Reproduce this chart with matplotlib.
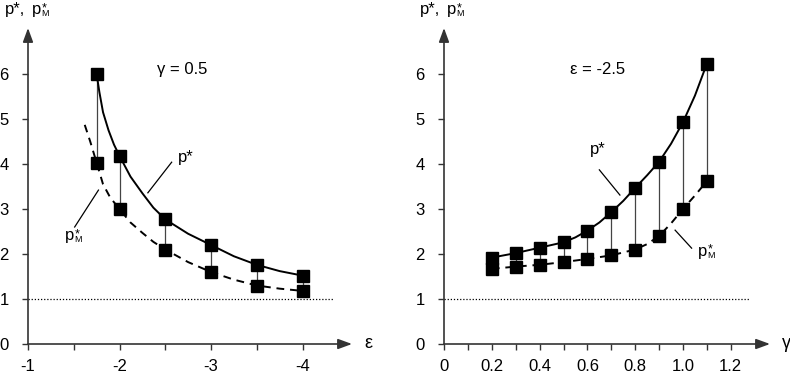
import matplotlib
matplotlib.use('Agg')
import matplotlib.pyplot as plt

plt.rcParams['font.family'] = ['Liberation Sans', 'DejaVu Sans']

# Left panel: gamma = 0.5, prices against elasticity
eps_pts = [-1.75, -2.0, -2.5, -3.0, -3.5, -4.0]
p_eps = [6.0, 4.18, 2.77, 2.2, 1.76, 1.52]
pm_eps = [4.03, 3.0, 2.1, 1.6, 1.3, 1.18]
# curves
eps_curve_p = [-1.75, -1.78, -1.82, -1.88, -1.94, -2.0, -2.12, -2.25, -2.37, -2.5, -2.75, -3.0,
               -3.25, -3.5, -3.75, -4.0]
p_curve_eps = [6.0, 5.6, 5.15, 4.75, 4.43, 4.18, 3.72, 3.35, 3.03, 2.77, 2.45, 2.2,
               1.95, 1.76, 1.62, 1.52]
eps_curve_pm = [-1.62, -1.68, -1.72, -1.75, -1.82, -1.9, -2.0, -2.12, -2.25, -2.37, -2.5, -2.75,
                -3.0, -3.25, -3.5, -3.75, -4.0]
pm_curve_eps = [4.87, 4.5, 4.23, 4.03, 3.55, 3.25, 3.0, 2.7, 2.47, 2.27, 2.1, 1.82,
                1.6, 1.43, 1.3, 1.23, 1.18]

# Right panel: eps = -2.5, prices against gamma
gam_pts = [0.2, 0.3, 0.4, 0.5, 0.6, 0.7, 0.8, 0.9, 1.0, 1.1]
p_gam = [1.92, 2.02, 2.14, 2.26, 2.52, 2.93, 3.47, 4.05, 4.93, 6.23]
pm_gam = [1.67, 1.72, 1.76, 1.82, 1.89, 1.97, 2.1, 2.4, 3.0, 3.62]
gam_curve_p = [0.2, 0.3, 0.4, 0.5, 0.55, 0.6, 0.65, 0.7, 0.75, 0.8, 0.85, 0.9, 0.95, 1.0,
               1.05, 1.1]
p_curve_gam = [1.92, 2.02, 2.14, 2.26, 2.37, 2.52, 2.7, 2.93, 3.18, 3.47, 3.75, 4.05, 4.45, 4.93,
               5.52, 6.23]
gam_curve_pm = [0.2, 0.3, 0.4, 0.5, 0.6, 0.7, 0.8, 0.85, 0.9, 0.95, 1.0, 1.05, 1.1]
pm_curve_gam = [1.67, 1.72, 1.76, 1.82, 1.89, 1.97, 2.1, 2.22, 2.4, 2.68, 3.0, 3.3, 3.62]

eps_ticks = [-1, -1.5, -2, -2.5, -3, -3.5, -4]
eps_labels = ['-1', '', '-2', '', '-3', '', '-4']
gam_ticks = [0, 0.1, 0.2, 0.3, 0.4, 0.5, 0.6, 0.7, 0.8, 0.9, 1.0, 1.1, 1.2]
gam_labels = ['0', '', '0.2', '', '0.4', '', '0.6', '', '0.8', '', '1.0', '', '1.2']
y_ticks = [0, 1, 2, 3, 4, 5, 6]

AX_COL = '#333333'

fig = plt.figure(figsize=(7.9, 3.76), dpi=100)


def p_star_m(ax, x, y, coords='data', prefix=False):
    # p with a subscript M and an asterisk above it, drawn as plain text pieces
    kw = dict(xycoords=coords, textcoords='offset points', ha='left', va='baseline',
              annotation_clip=False)
    dx = 0
    if prefix:
        ax.annotate('p*,', (x, y), xytext=(0, 0), fontsize=12, **kw)
        dx = 19.5
    ax.annotate('p', (x, y), xytext=(dx, 0), fontsize=12, **kw)
    ax.annotate('M', (x, y), xytext=(dx + 6.8, -1.5), fontsize=6.5, **kw)
    ax.annotate('*', (x, y), xytext=(dx + 7.0, 2.2), fontsize=9, **kw)


def setup(ax, xticks, xlabels, xname, label_x):
    for s in ax.spines.values():
        s.set_visible(False)
    ax.set_xticks(xticks)
    ax.set_xticklabels(xlabels)
    ax.set_yticks(y_ticks)
    ax.tick_params(axis='x', direction='out', length=4.5, width=1, color=AX_COL, labelsize=12, pad=6)
    ax.tick_params(axis='y', direction='out', length=4, width=1, color=AX_COL, labelsize=12, pad=10)
    ax.set_facecolor('none')
    # axis lines with arrows
    arrow = dict(arrowstyle='-|>,head_length=0.6,head_width=0.22', color=AX_COL,
                 lw=1.2, mutation_scale=14, shrinkA=0, shrinkB=0)
    ax.annotate('', xy=(1, 0), xytext=(0, 0), xycoords='axes fraction', annotation_clip=False,
                arrowprops=arrow)
    ax.annotate('', xy=(0, 1), xytext=(0, 0), xycoords='axes fraction', annotation_clip=False,
                arrowprops=arrow)
    ax.text(1.05, 0, xname, transform=ax.transAxes, fontsize=13, ha='center', va='center')
    p_star_m(ax, label_x / 790, 1 - 14 / 376, coords='figure fraction', prefix=True)


def draw(ax, xs, p, pm, cx_p, cy_p, cx_pm, cy_pm):
    ax.vlines(xs, pm, p, color='#444444', lw=0.9, zorder=2)
    ax.plot(cx_p, cy_p, color='k', lw=1.4, zorder=3)
    ax.plot(cx_pm, cy_pm, color='k', lw=1.4, ls=(0, (4, 3)), zorder=3)
    ax.plot(xs, p, 's', color='k', ms=9, zorder=4)
    ax.plot(xs, pm, 's', color='k', ms=9, zorder=4)


# left panel
ax1 = fig.add_axes([28 / 790, 32 / 376, 324 / 790, 316 / 376])
ax1.set_xlim(-1, -1 - 324 / 91.5)
ax1.set_ylim(0, 316 / 45)
setup(ax1, eps_ticks, eps_labels, 'ε', 5)
ax1.plot([-1, -4.33], [1, 1], color='k', lw=0.9, ls=(0, (1, 1.5)))
draw(ax1, eps_pts, p_eps, pm_eps, eps_curve_p, p_curve_eps, eps_curve_pm, pm_curve_eps)
ax1.text(-2.41, 6.09, 'γ = 0.5', fontsize=12, ha='left', va='center')
ax1.text(-2.639, 4.04, 'p*', fontsize=12, ha='left', va='baseline')
ax1.plot([-2.31, -2.57], [3.36, 4.04], color='k', lw=0.9)
p_star_m(ax1, -1.404, 2.31)
ax1.plot([-1.51, -1.77], [2.6, 3.42], color='k', lw=0.9)

# right panel
ax2 = fig.add_axes([444 / 790, 32 / 376, 326 / 790, 316 / 376])
ax2.set_xlim(0, 326 / 239)
ax2.set_ylim(0, 316 / 45)
setup(ax2, gam_ticks, gam_labels, 'γ', 420)
ax2.plot([0, 1.28], [1, 1], color='k', lw=0.9, ls=(0, (1, 1.5)))
draw(ax2, gam_pts, p_gam, pm_gam, gam_curve_p, p_curve_gam, gam_curve_pm, pm_curve_gam)
ax2.text(0.527, 6.09, 'ε = -2.5', fontsize=12, ha='left', va='center')
ax2.text(0.611, 4.22, 'p*', fontsize=12, ha='left', va='baseline')
ax2.plot([0.65, 0.736], [3.87, 3.31], color='k', lw=0.9)
p_star_m(ax2, 1.063, 1.96)
ax2.plot([0.967, 1.036], [2.53, 2.13], color='k', lw=0.9)

fig.savefig('out.png', dpi=100)
